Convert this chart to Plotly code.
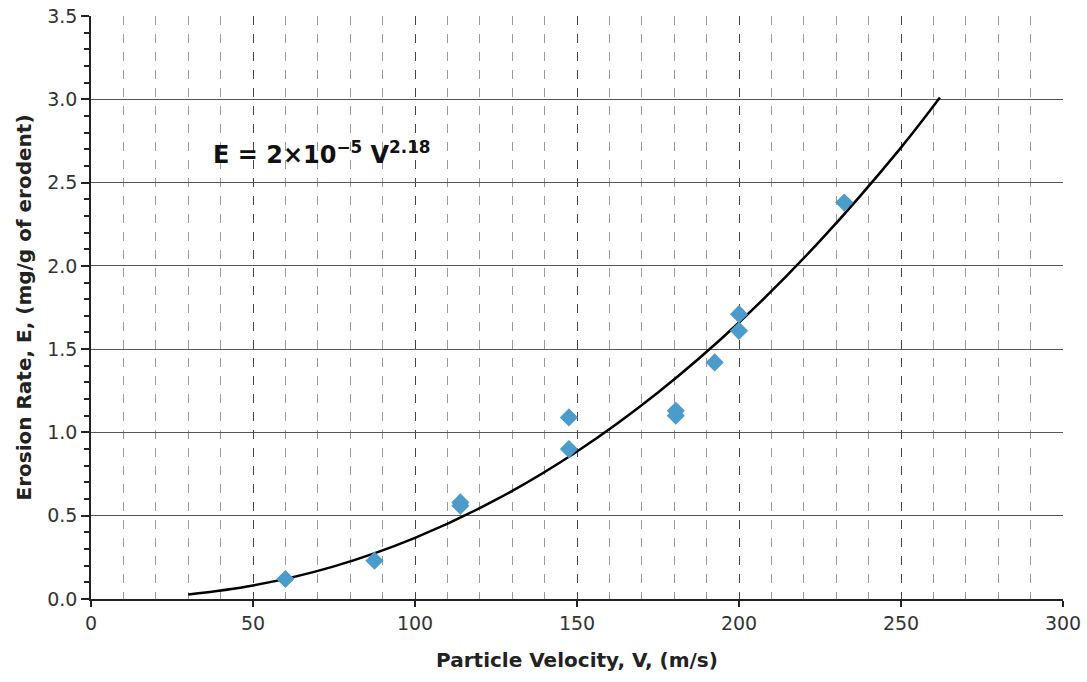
import plotly.graph_objects as go

# Measured data points
vel = [60, 87.5, 114, 114, 147.5, 147.5, 180.5, 180.5, 192.5, 200, 200, 232.5]
erosion = [0.12, 0.23, 0.58, 0.56, 1.09, 0.90, 1.13, 1.10, 1.42, 1.71, 1.61, 2.38]

# Trend curve
fit_v = [30, 50, 75, 100, 125, 150, 175, 200, 225, 250, 262]
fit_e = [0.027, 0.081, 0.196, 0.367, 0.596, 0.886, 1.24, 1.66, 2.15, 2.71, 3.01]

x_ticks = [0, 50, 100, 150, 200, 250, 300]
y_ticks = [0.0, 0.5, 1.0, 1.5, 2.0, 2.5, 3.0, 3.5]

font_family = "DejaVu Sans, Verdana, sans-serif"

fig = go.Figure()
fig.add_trace(go.Scatter(
    x=fit_v, y=fit_e, mode="lines", line=dict(color="black", width=2.5, shape="spline"),
    showlegend=False, hoverinfo="skip"))
fig.add_trace(go.Scatter(
    x=vel, y=erosion, mode="markers",
    marker=dict(symbol="diamond", size=14, color="#4b9bcb", line=dict(width=0)),
    showlegend=False))

fig.add_annotation(
    x=37, y=2.68, xref="x", yref="y", xanchor="left", yanchor="middle",
    text="<b>E = 2×10<sup>−5</sup> V<sup>2.18</sup></b>", showarrow=False,
    font=dict(family=font_family, size=24, color="#111"))

fig.update_layout(
    width=1087, height=682,
    margin=dict(l=91, r=24, t=16, b=83),
    paper_bgcolor="white", plot_bgcolor="white",
    font=dict(family=font_family, size=19, color="#333"),
    xaxis=dict(
        range=[0, 300], tickvals=x_ticks, ticktext=[str(v) for v in x_ticks],
        automargin=False,
        showgrid=True, gridcolor="#444", griddash="dash", gridwidth=1.2,
        minor=dict(dtick=10, showgrid=True, gridcolor="#999", griddash="dash", gridwidth=1.2),
        showline=True, linecolor="#222", linewidth=1.5,
        ticks="outside", ticklen=6, tickcolor="#222", tickwidth=1.5,
        zeroline=False,
        title=dict(text="<b>Particle Velocity, V, (m/s)</b>", font=dict(size=20, color="#222"), standoff=20),
    ),
    yaxis=dict(
        range=[0, 3.5], tickvals=y_ticks, ticktext=[f"{v:.1f}" for v in y_ticks],
        automargin=False,
        showgrid=True, gridcolor="#555", gridwidth=1.2,
        minor=dict(dtick=0.1, ticks="outside", ticklen=5, tickcolor="#222", showgrid=False),
        showline=True, linecolor="#222", linewidth=1.5,
        ticks="outside", ticklen=8, tickcolor="#222", tickwidth=1.5,
        zeroline=False,
        title=dict(text="<b>Erosion Rate, E, (mg/g of erodent)</b>", font=dict(size=20, color="#222"), standoff=10),
    ),
)

fig.write_html("out.html")
